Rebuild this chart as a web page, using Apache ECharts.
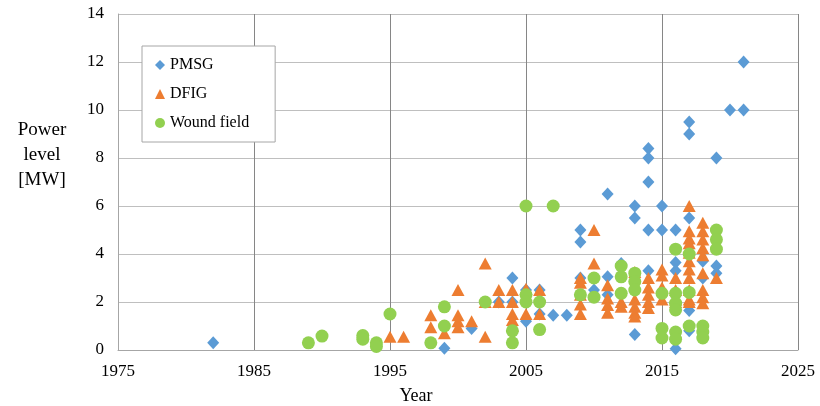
<!DOCTYPE html>
<html><head><meta charset="utf-8">
<script src="https://cdn.jsdelivr.net/npm/echarts@6/dist/echarts.min.js"></script>
<style>html,body{margin:0;padding:0;background:#fff}#c{width:820px;height:406px}</style>
</head><body><div id="c"></div>
<script>
var xTicks = [1975, 1985, 1995, 2005, 2015, 2025];
var yTicks = [0, 2, 4, 6, 8, 10, 12, 14];
var pmsg = [
  [1982,0.3],[1999,0.07],[2001,0.9],[2003,2.0],[2004,3.0],[2004,2.0],
  [2005,2.5],[2005,1.2],[2006,2.5],[2006,1.5],[2007,1.45],[2008,1.45],
  [2009,5.0],[2009,4.5],[2009,3.0],[2010,2.5],[2011,6.5],[2011,3.05],[2011,2.3],
  [2012,3.6],[2013,6.0],[2013,5.5],[2013,0.65],[2014,8.4],[2014,8.0],[2014,7.0],
  [2014,5.0],[2014,3.3],[2015,6.0],[2015,5.0],[2016,5.0],[2016,3.65],[2016,3.3],
  [2016,0.05],[2017,9.5],[2017,9.0],[2017,5.5],[2017,1.65],[2017,0.8],
  [2018,3.7],[2018,3.0],[2019,8.0],[2019,3.5],[2019,3.2],[2020,10.0],[2021,12.0],[2021,10.0]
];
var dfig = [
  [1995,0.55],[1996,0.55],[1998,1.45],[1998,0.95],[1999,0.7],
  [2000,2.5],[2000,1.45],[2000,1.2],[2000,0.95],[2001,1.2],
  [2002,3.6],[2002,2.0],[2002,0.55],[2003,2.5],[2003,2.0],
  [2004,2.5],[2004,2.0],[2004,1.5],[2004,1.25],[2004,1.0],
  [2005,2.55],[2005,1.5],[2006,2.5],[2006,1.5],
  [2009,3.0],[2009,2.8],[2009,2.3],[2009,1.9],[2009,1.5],
  [2010,5.0],[2010,3.6],[2011,2.7],[2011,2.15],[2011,1.87],[2011,1.55],
  [2012,2.0],[2012,1.8],[2013,3.25],[2013,2.1],[2013,1.8],[2013,1.55],[2013,1.4],
  [2014,3.0],[2014,2.6],[2014,2.3],[2014,2.0],[2014,1.75],
  [2015,3.35],[2015,3.1],[2015,2.6],[2015,2.1],
  [2016,3.0],[2016,2.5],[2016,2.1],[2016,2.0],
  [2017,6.0],[2017,4.95],[2017,4.65],[2017,4.45],[2017,4.05],[2017,3.7],[2017,3.35],
  [2017,3.0],[2017,2.5],[2017,2.1],[2017,2.0],
  [2018,5.3],[2018,4.95],[2018,4.6],[2018,4.25],[2018,3.95],[2018,3.2],[2018,2.5],
  [2018,2.2],[2018,1.95],[2019,3.0]
];
var wound = [
  [1989,0.3],[1990,0.58],[1993,0.6],[1993,0.45],[1994,0.3],[1994,0.15],[1995,1.5],
  [1998,0.3],[1999,1.8],[1999,1.0],[2002,2.0],[2004,0.8],[2004,0.3],
  [2005,6.0],[2005,2.3],[2005,2.0],[2006,2.0],[2006,0.85],[2007,6.0],
  [2009,2.3],[2010,3.0],[2010,2.2],[2012,3.5],[2012,3.05],[2012,2.36],
  [2013,3.2],[2013,2.85],[2013,2.5],[2015,2.36],[2015,0.9],[2015,0.5],
  [2016,4.2],[2016,2.36],[2016,1.95],[2016,1.67],[2016,0.75],[2016,0.45],
  [2017,4.0],[2017,2.4],[2017,1.0],[2018,1.0],[2018,0.75],[2018,0.5],
  [2019,5.0],[2019,4.6],[2019,4.2]
];
var serif = '"Liberation Serif","DejaVu Serif",serif';
var chart = echarts.init(document.getElementById('c'));
chart.setOption({
  animation: false,
  grid: {left: 118, right: 22, top: 14, bottom: 56},
  legend: {
    orient: 'vertical', left: 142, top: 46,
    padding: [11, 26, 11, 13], itemGap: 13,
    borderColor: '#a6a6a6', borderWidth: 1, backgroundColor: '#fff',
    itemWidth: 10, itemHeight: 10,
    textStyle: {fontFamily: serif, fontSize: 16, color: '#000'},
    data: ['PMSG', 'DFIG', 'Wound field']
  },
  xAxis: {
    type: 'value', min: xTicks[0], max: xTicks[xTicks.length - 1], interval: 10,
    axisLine: {show: true, lineStyle: {color: '#a6a6a6'}},
    axisTick: {show: false},
    axisLabel: {fontFamily: serif, fontSize: 17, color: '#000', margin: 13,
      formatter: function (v) { return String(v); }},
    splitLine: {show: true, lineStyle: {color: '#868686', width: 1}}
  },
  yAxis: {
    type: 'value', min: yTicks[0], max: yTicks[yTicks.length - 1], interval: 2,
    axisLine: {show: true, lineStyle: {color: '#a6a6a6'}},
    axisTick: {show: false},
    axisLabel: {fontFamily: serif, fontSize: 17, color: '#000', margin: 14},
    splitLine: {show: true, lineStyle: {color: '#bfbfbf', width: 1}}
  },
  graphic: [
    {type: 'text', x: 416, y: 396, style: {text: 'Year', font: '18px ' + serif, fill: '#000', align: 'center', verticalAlign: 'middle'}},
    {type: 'text', x: 42, y: 130, style: {text: 'Power', font: '19px ' + serif, fill: '#000', align: 'center', verticalAlign: 'middle'}},
    {type: 'text', x: 42, y: 155, style: {text: 'level', font: '19px ' + serif, fill: '#000', align: 'center', verticalAlign: 'middle'}},
    {type: 'text', x: 42, y: 180, style: {text: '[MW]', font: '19px ' + serif, fill: '#000', align: 'center', verticalAlign: 'middle'}}
  ],
  series: [
    {name: 'PMSG', type: 'scatter', symbol: 'diamond', symbolSize: [12, 13], data: pmsg,
     itemStyle: {color: '#5b9bd5', opacity: 1}},
    {name: 'DFIG', type: 'scatter', symbol: 'triangle', symbolSize: [13, 12], data: dfig,
     itemStyle: {color: '#ed7d31', opacity: 1}},
    {name: 'Wound field', type: 'scatter', symbol: 'circle', symbolSize: 13, data: wound,
     itemStyle: {color: '#92d050', opacity: 1}}
  ]
});
</script></body></html>
